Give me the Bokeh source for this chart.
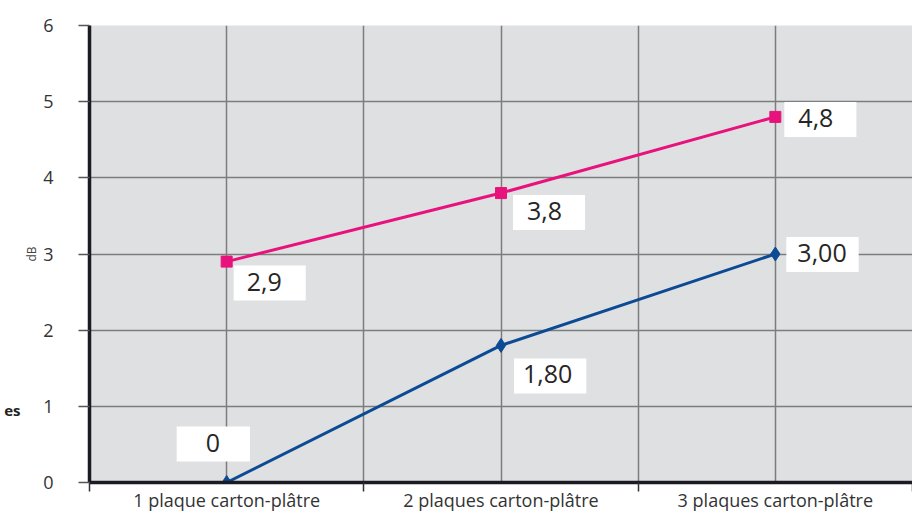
from bokeh.plotting import figure
from bokeh.models import FixedTicker, Label, Range1d, LinearAxis
from bokeh.embed import file_html
from bokeh.resources import INLINE

# ---- data ----
categories = ["1 plaque carton-plâtre", "2 plaques carton-plâtre", "3 plaques carton-plâtre"]
series_pink = [2.9, 3.8, 4.8]
series_blue = [0.0, 1.80, 3.00]
pink_labels = ["2,9", "3,8", "4,8"]
blue_labels = ["0", "1,80", "3,00"]
y_ticks = [0, 1, 2, 3, 4, 5, 6]
y_title = "dB"
legend_fragment = "es"
legend_fragment_y = 0.95

# ---- styles (label box offsets in px: right, up; padding: left, right, top, bottom) ----
pink_offsets = [(7, -4), (12, -2), (9, 15)]
blue_offsets = [(-50, 56), (13, -13), (11, 17)]
pink_pads = [(13, 24, 7, 10), (14, 23, 7, 10), (14, 23, 7, 10)]
blue_pads = [(29, 30, 7, 10), (9, 14, 7, 10), (11, 12, 7, 10)]

PINK = "#e8127c"
BLUE = "#0c4a94"
GRID = "#7d7d7d"
FONT = "Open Sans"

n = len(categories)
x_pos = [i + 0.5 for i in range(n)]
bounds = [float(i) for i in range(n + 1)]

p = figure(width=912, height=514, x_range=Range1d(0, n), y_range=Range1d(y_ticks[0], y_ticks[-1]),
           output_backend="svg", toolbar_location=None,
           min_border_left=89, min_border_top=25, min_border_right=0, min_border_bottom=32)
p.background_fill_color = "#dfe0e2"
p.border_fill_color = "white"
p.outline_line_color = None

# x axis
p.xaxis.ticker = FixedTicker(ticks=x_pos, minor_ticks=bounds)
p.xaxis.major_label_overrides = {x: c for x, c in zip(x_pos, categories)}
p.xaxis.major_tick_out = 0
p.xaxis.major_tick_in = 0
p.xaxis.minor_tick_out = 9
p.xaxis.minor_tick_in = 0
p.xaxis.minor_tick_line_color = "#333333"
p.xaxis.minor_tick_line_width = 1.5
p.xaxis.major_label_standoff = -4
p.xaxis.major_label_text_font = FONT
p.xaxis.major_label_text_font_size = "18px"
p.xaxis.major_label_text_color = "#333333"
p.xaxis.axis_line_color = "#1b1b22"
p.xaxis.axis_line_width = 3.5

# y axis
p.yaxis.ticker = FixedTicker(ticks=y_ticks, minor_ticks=[])
p.yaxis.major_tick_out = 11
p.yaxis.major_tick_in = 0
p.yaxis.major_tick_line_color = "#555555"
p.yaxis.major_tick_line_width = 1.5
p.yaxis.major_label_standoff = 25
p.yaxis.major_label_text_font = FONT
p.yaxis.major_label_text_font_size = "18px"
p.yaxis.major_label_text_color = "#333333"
p.yaxis.axis_line_color = "#1b1b22"
p.yaxis.axis_line_width = 3.5
p.yaxis.axis_label = y_title
p.yaxis.axis_label_text_font = FONT
p.yaxis.axis_label_text_font_size = "12px"
p.yaxis.axis_label_text_font_style = "normal"
p.yaxis.axis_label_text_color = "#444444"
p.yaxis.axis_label_standoff = 0

# cut-off legend text as an outer, bare axis
es_axis = LinearAxis(ticker=FixedTicker(ticks=[legend_fragment_y], minor_ticks=[]),
                     major_label_overrides={legend_fragment_y: legend_fragment},
                     axis_line_color=None, major_tick_line_color=None, minor_tick_line_color=None,
                     major_tick_out=0, major_tick_in=0, major_label_standoff=0,
                     major_label_text_font=FONT, major_label_text_font_style="bold",
                     major_label_text_font_size="15px", major_label_text_color="#222222")
p.add_layout(es_axis, "left")

# grids
p.xgrid.grid_line_color = GRID
p.xgrid.grid_line_width = 1.5
p.xgrid.minor_grid_line_color = GRID
p.xgrid.minor_grid_line_width = 1.5
p.ygrid.grid_line_color = GRID
p.ygrid.grid_line_width = 1.5

# series
p.line(x_pos, series_pink, line_color=PINK, line_width=3)
p.scatter(x_pos, series_pink, marker="square", size=11, fill_color=PINK, line_color=PINK)
p.line(x_pos, series_blue, line_color=BLUE, line_width=3)
p.scatter(x_pos, series_blue, marker="diamond", size=14, fill_color=BLUE, line_color=BLUE)

# data labels
for xs, ys, texts, offs, pads in ((x_pos, series_pink, pink_labels, pink_offsets, pink_pads),
                                  (x_pos, series_blue, blue_labels, blue_offsets, blue_pads)):
    for x, y, t, (dx, dy), pad in zip(xs, ys, texts, offs, pads):
        p.add_layout(Label(x=x, y=y, x_offset=dx, y_offset=dy, text=t, anchor="top_left",
                           padding=pad, background_fill_color="white",
                           text_font=FONT, text_font_size="25px", text_color="#262626"))

open("out.html", "w").write(file_html(p, INLINE))
